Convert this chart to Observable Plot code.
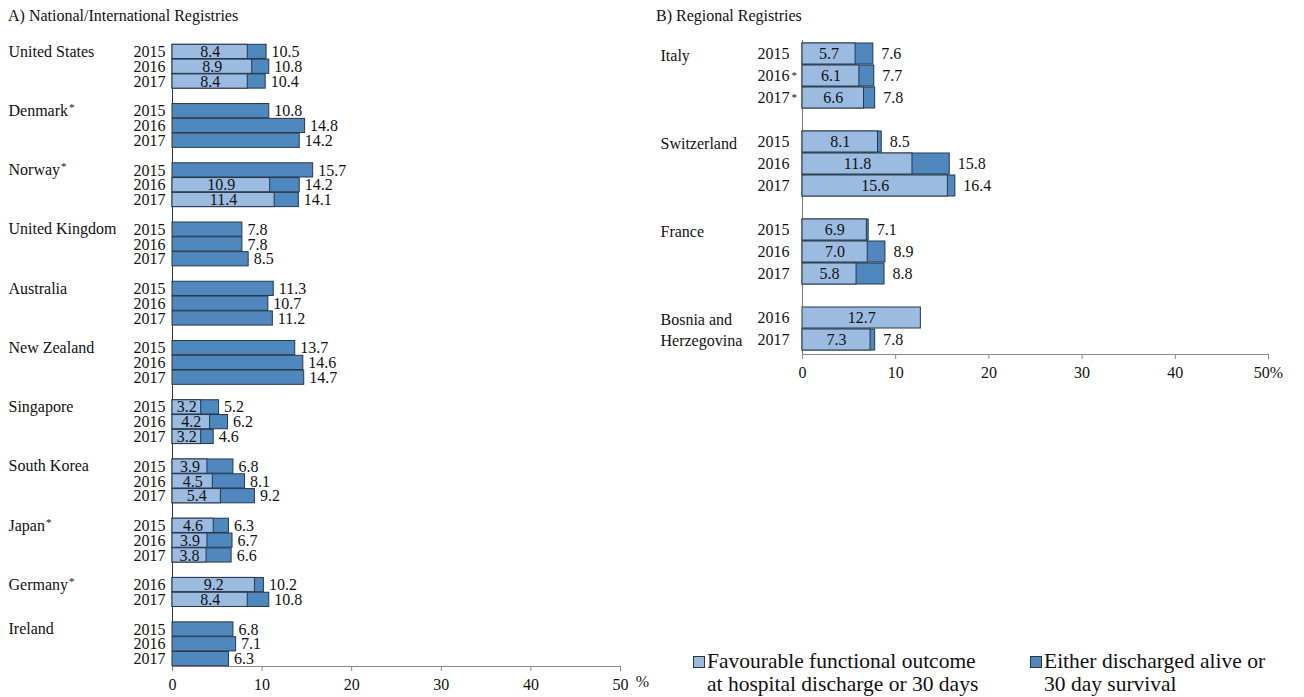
<!DOCTYPE html>
<html>
<head>
<meta charset="utf-8">
<script src="https://cdn.jsdelivr.net/npm/d3@7"></script>
<script src="https://cdn.jsdelivr.net/npm/@observablehq/plot@0.6"></script>
<style>
  body { margin: 0; background: #fff; font-family: "Liberation Serif", "Times New Roman", serif; color: #111; }
  #page { position: relative; width: 1304px; height: 697px; overflow: hidden; }
  #page svg, #page svg text { font-family: "Liberation Serif", "Times New Roman", serif !important; }
  .title { position: absolute; top: 7px; font-size: 16px; white-space: nowrap; }
  #panelA { position: absolute; left: 0; top: 0; }
  #panelB { position: absolute; left: 650px; top: 0; }
  .legend { position: absolute; top: 650px; display: flex; font-size: 21.5px; line-height: 23px; white-space: nowrap; }
  .legend .sw { width: 10px; height: 10px; border: 1px solid #333; margin-top: 6px; margin-right: 2px; flex: none; }
</style>
</head>
<body>
<div id="page">
  <div class="title" style="left:8px">A) National/International Registries</div>
  <div class="title" style="left:656px">B) Regional Registries</div>
  <div id="panelA"></div>
  <div id="panelB"></div>
  <div class="legend" style="left:693px"><span class="sw" id="swLight"></span><span>Favourable functional outcome<br>at hospital discharge or 30 days</span></div>
  <div class="legend" style="left:1030px"><span class="sw" id="swDark"></span><span>Either discharged alive or<br>30 day survival</span></div>
</div>
<script>
// A) National/international registries (% of patients)
const groupsA = ["United States", "Denmark*", "Norway*", "United Kingdom", "Australia", "New Zealand",
                 "Singapore", "South Korea", "Japan*", "Germany*", "Ireland"];
const yearsA = [
  ["2015", "2016", "2017"], ["2015", "2016", "2017"], ["2015", "2016", "2017"], ["2015", "2016", "2017"],
  ["2015", "2016", "2017"], ["2015", "2016", "2017"], ["2015", "2016", "2017"], ["2015", "2016", "2017"],
  ["2015", "2016", "2017"], ["2016", "2017"], ["2015", "2016", "2017"]
];
const survivalA = [
  [10.5, 10.8, 10.4], [10.8, 14.8, 14.2], [15.7, 14.2, 14.1], [7.8, 7.8, 8.5],
  [11.3, 10.7, 11.2], [13.7, 14.6, 14.7], [5.2, 6.2, 4.6], [6.8, 8.1, 9.2],
  [6.3, 6.7, 6.6], [10.2, 10.8], [6.8, 7.1, 6.3]
];
const favourableA = [
  [8.4, 8.9, 8.4], [null, null, null], [null, 10.9, 11.4], [null, null, null],
  [null, null, null], [null, null, null], [3.2, 4.2, 3.2], [3.9, 4.5, 5.4],
  [4.6, 3.9, 3.8], [9.2, 8.4], [null, null, null]
];

// B) Regional registries
const groupsB = ["Italy", "Switzerland", "France", "Bosnia and\nHerzegovina"];
const yearsB = [["2015", "2016*", "2017*"], ["2015", "2016", "2017"], ["2015", "2016", "2017"], ["2016", "2017"]];
const survivalB = [[7.6, 7.7, 7.8], [8.5, 15.8, 16.4], [7.1, 8.9, 8.8], [null, 7.8]];
const favourableB = [[5.7, 6.1, 6.6], [8.1, 11.8, 15.6], [6.9, 7.0, 5.8], [12.7, 7.3]];

const xTicks = [0, 10, 20, 30, 40, 50];

const LIGHT = "#9bbbe1";
const DARK = "#4f87bf";
const EDGE = "#27384a";
const AXIS = "#8a8a8a";
const FONT = "Liberation Serif, Times New Roman, serif";

document.getElementById("swLight").style.background = LIGHT;
document.getElementById("swDark").style.background = DARK;

// One row per registry-year, with an empty band between registries.
function buildRows(groups, years, surv, fav) {
  const rows = [], domain = [];
  groups.forEach((g, i) => {
    if (i > 0) domain.push("gap-" + i);
    years[i].forEach((yr, j) => {
      const key = g + "|" + yr;
      domain.push(key);
      rows.push({group: g, year: yr, key, surv: surv[i][j], fav: fav[i][j], first: j === 0});
    });
  });
  return {rows, domain};
}

function panel({rows, domain}, o) {
  return Plot.plot({
    width: o.width, height: o.height,
    marginLeft: o.ml, marginRight: o.mr, marginTop: o.mt, marginBottom: o.mb,
    style: {fontFamily: FONT, fontSize: "16px", color: "#111", background: "transparent", overflow: "visible"},
    x: {domain: [0, 50], axis: null},
    y: {domain, axis: null, paddingInner: 0.04, paddingOuter: 0.02},
    marks: [
      Plot.ruleX([0], {stroke: o.spine}),
      Plot.frame({anchor: "bottom", stroke: AXIS}),
      Plot.axisX({ticks: xTicks, tickSize: 5, tickPadding: 7, stroke: AXIS, fill: "#111",
                  fontSize: 16, fontFamily: FONT, tickFormat: o.tickFormat}),
      Plot.barX(rows.filter(d => d.surv != null), {x1: 0, x2: "surv", y: "key", fill: DARK, stroke: EDGE, strokeWidth: 1}),
      Plot.barX(rows.filter(d => d.fav != null), {x1: 0, x2: "fav", y: "key", fill: LIGHT, stroke: EDGE, strokeWidth: 1}),
      Plot.text(rows.filter(d => d.fav != null), {x: d => d.fav / 2, y: "key", text: d => d.fav.toFixed(1),
                fontSize: 16, fontFamily: FONT}),
      Plot.text(rows.filter(d => d.surv != null), {x: "surv", y: "key", text: d => d.surv.toFixed(1),
                textAnchor: "start", dx: o.valueDx, fontSize: 16, fontFamily: FONT}),
      Plot.text(rows, {x: 0, y: "key", text: "year", textAnchor: "end", dx: o.yearDx, fontSize: 16, fontFamily: FONT}),
      Plot.text(rows.filter(d => d.first), {x: 0, y: "key", text: "group", textAnchor: "start",
                dx: o.groupDx, lineAnchor: "top", dy: o.groupDy, lineHeight: 1.3, fontSize: 16, fontFamily: FONT}),
      o.percent ? Plot.text(["%"], {x: 50, frameAnchor: "bottom", text: d => d, dx: 22, dy: 20,
                fontSize: 16, fontFamily: FONT}) : null
    ]
  });
}

// Turn a trailing "*" into a small raised asterisk.
function raiseAsterisks(svg) {
  const NS = "http://www.w3.org/2000/svg";
  for (const t of Array.from(svg.querySelectorAll("text"))) {
    if (t.children.length || !t.textContent.endsWith("*")) continue;
    const holder = t.closest("[text-anchor]");
    const anchor = holder ? holder.getAttribute("text-anchor") : "start";
    t.textContent = t.textContent.slice(0, -1);
    if (anchor === "end") {
      const star = t.cloneNode(false);
      star.textContent = "*";
      star.setAttribute("text-anchor", "start");
      star.setAttribute("font-size", "11");
      star.setAttribute("dx", "2");
      star.setAttribute("dy", "-1");
      t.parentNode.appendChild(star);
    } else {
      const star = document.createElementNS(NS, "tspan");
      star.textContent = "*";
      star.setAttribute("font-size", "11");
      star.setAttribute("dx", "1");
      star.setAttribute("dy", "-5");
      t.appendChild(star);
    }
  }
}

const chartA = panel(buildRows(groupsA, yearsA, survivalA, favourableA), {
  width: 650, height: 697, ml: 172, mr: 30, mt: 44, mb: 31,
  spine: "#333", valueDx: 5, yearDx: -7, groupDx: -164, groupDy: -10, percent: true,
  tickFormat: d => String(d)
});
const chartB = panel(buildRows(groupsB, yearsB, survivalB, favourableB), {
  width: 654, height: 400, ml: 152, mr: 36, mt: 40, mb: 46,
  spine: "#777", valueDx: 8, yearDx: -13, groupDx: -142, groupDy: -8, percent: false,
  tickFormat: d => d === 50 ? "50%" : String(d)
});
document.getElementById("panelA").appendChild(chartA);
document.getElementById("panelB").appendChild(chartB);
raiseAsterisks(chartA);
raiseAsterisks(chartB);
</script>
</body>
</html>
